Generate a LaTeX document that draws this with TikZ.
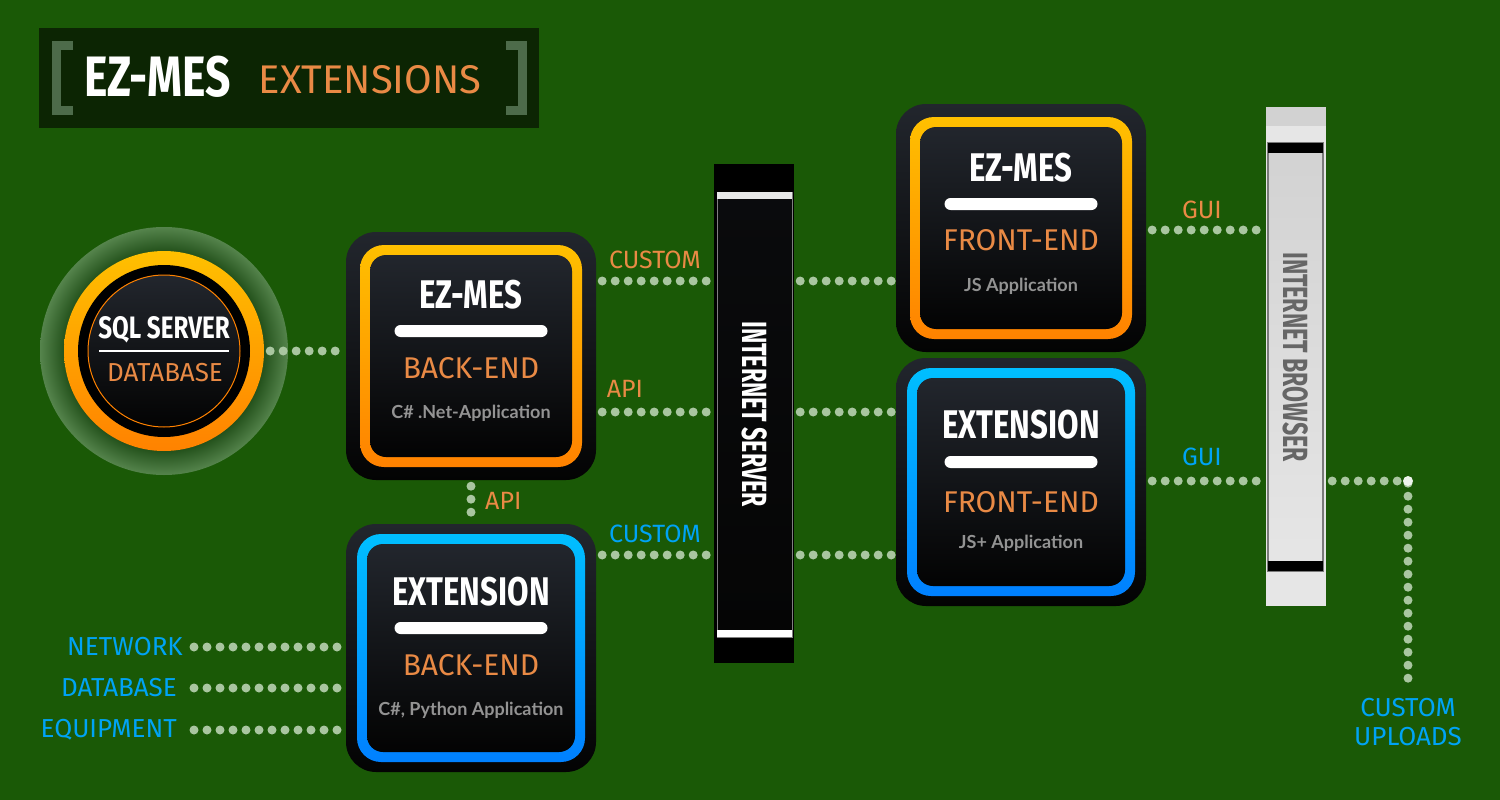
\documentclass[tikz,border=0pt]{standalone}
\usepackage{fontspec}
\setmainfont{Fira Sans}
\newfontfamily\headfont{Fira Sans}[FakeStretch=0.78]
\newfontfamily\narrowfont{Fira Sans}[FakeStretch=0.66]
\newfontfamily\techfont{Lato}
\usetikzlibrary{positioning,calc}
\definecolor{bggreen}{HTML}{1A5906}
\definecolor{titlebg}{HTML}{0C2503}
\definecolor{bracketgray}{HTML}{4D6B4A}
\definecolor{glowdark}{HTML}{22501A}
\definecolor{glowlight}{HTML}{55844C}
\definecolor{ringtop}{HTML}{FFC000}
\definecolor{ringbot}{HTML}{FF8200}
\definecolor{bluetop}{HTML}{00BFFF}
\definecolor{bluebot}{HTML}{0080FF}
\definecolor{shelltop}{HTML}{22262D}
\definecolor{shellbot}{HTML}{030303}
\definecolor{labelorange}{HTML}{E98A45}
\definecolor{labelblue}{HTML}{00A3F5}
\definecolor{techgray}{HTML}{939393}
\definecolor{dotgreen}{HTML}{A9C6A0}
\definecolor{dotwhite}{HTML}{EEF4EC}
\definecolor{panetop}{HTML}{0A0B0D}
\definecolor{panemid}{HTML}{2C2D30}
\definecolor{panebot}{HTML}{050505}
\definecolor{capwhite}{HTML}{E8E8E8}
\definecolor{browsergray}{HTML}{E6E6E6}
\definecolor{browsertop}{HTML}{D2D2D2}
\definecolor{browseredge}{HTML}{7A7A7A}
\definecolor{browsertext}{HTML}{666666}
\pgfdeclareradialshading{sqlhalo}{\pgfpoint{0bp}{0bp}}{color(0bp)=(glowdark); color(20bp)=(glowdark); color(25bp)=(glowlight); color(50bp)=(glowlight)}
\tikzset{
  appshell/.style={rectangle, rounded corners=30pt, minimum width=250pt, minimum height=248pt,
    top color=shelltop, bottom color=shellbot},
  orangeframe/.style={rectangle, rounded corners=24pt, minimum size=222pt, top color=ringtop, bottom color=ringbot},
  blueframe/.style={rectangle, rounded corners=24pt, minimum size=228pt, top color=bluetop, bottom color=bluebot},
  appcore/.style={rectangle, rounded corners=16pt, top color=shelltop, bottom color=shellbot},
  apptitle/.style={text=white, font=\headfont\bfseries\fontsize{40}{40}\selectfont},
  appbar/.style={rectangle, rounded corners=6pt, fill=white, minimum width=153pt, minimum height=12pt},
  appkind/.style={text=labelorange, font=\fontsize{30}{30}\selectfont},
  apptech/.style={text=techgray, font=\techfont\bfseries\fontsize{18}{18}\selectfont},
  orangelabel/.style={text=labelorange, font=\fontsize{25}{25}\selectfont},
  bluelabel/.style={text=labelblue, font=\fontsize{26}{26}\selectfont},
  barlabel/.style={rotate=-90, font=\narrowfont\bfseries\fontsize{35}{35}\selectfont},
  dotlink/.style={draw=dotgreen, line width=9pt, line cap=round, dash pattern=on 0pt off 13pt,
    shorten <=6pt, shorten >=3pt},
}

\begin{document}
\begin{tikzpicture}[x=1pt, y=-1pt, inner sep=0pt]

\fill[bggreen] (0,0) rectangle (1500,800);

% Title plate.
\node[fill=titlebg, minimum width=500pt, minimum height=100pt] (titleplate) at (289,78) {};
\draw[bracketgray, line width=9pt] (73,45.5) -| (56.5,110.5) -- (73,110.5);
\draw[bracketgray, line width=9pt] (506,45.5) -| (522.5,110.5) -- (506,110.5);
\node[text=white, font=\headfont\bfseries\fontsize{57}{57}\selectfont] (titlemain) at (158,77) {EZ-MES};
\node[text=labelorange, font=\fontsize{40}{40}\selectfont] (titlesub) at (370,80) {EXTENSIONS};

% SQL server.
\node[circle, minimum size=248pt, shading=sqlhalo] (sqlglow) at (164,351) {};
\node[circle, minimum size=200pt, top color=ringtop, bottom color=ringbot] (sqlring) at (sqlglow) {};
\node[circle, minimum size=172pt, fill=black] (sqlhole) at (sqlglow) {};
\node[circle, minimum size=152pt, draw=ringbot, line width=1pt, top color=shelltop, bottom color=shellbot] (sqlcore) at (sqlglow) {};
\node[text=white, font=\headfont\bfseries\fontsize{31}{31}\selectfont] (sqltitle) at (164,330) {SQL SERVER};
\draw[white, line width=1.2pt] ([xshift=-65pt]sqlcore.center) -- ([xshift=65pt]sqlcore.center);
\node[text=labelorange, font=\fontsize{26}{26}\selectfont] (sqlsub) at (165,373) {DATABASE};

% EZ-MES back-end.
\node[appshell] (beback) at (471,356) {};
\node[orangeframe] (bebackframe) at (beback) {};
\node[appcore, minimum size=202pt] (bebackcore) at (beback) {};
\node[apptitle] (bebacktitle) at ([yshift=61pt]beback.center) {EZ-MES};
\node[appbar] (bebackbar) at ([yshift=25pt]beback.center) {};
\node[appkind] (bebackkind) at ([yshift=-12pt]beback.center) {BACK-END};
\node[apptech] (bebacktech) at ([yshift=-57pt]beback.center) {C\# .Net-Application};

% Extension back-end.
\node[appshell] (exback) at (471,648) {};
\node[blueframe] (exbackframe) at (exback) {};
\node[appcore, minimum size=208pt] (exbackcore) at (exback) {};
\node[apptitle] (exbacktitle) at ([yshift=56pt]exback.center) {EXTENSION};
\node[appbar] (exbackbar) at ([yshift=20pt]exback.center) {};
\node[appkind] (exbackkind) at ([yshift=-17pt]exback.center) {BACK-END};
\node[apptech] (exbacktech) at ([yshift=-62pt]exback.center) {C\#, Python Application};

% EZ-MES front-end.
\node[appshell] (ezfront) at (1021,228) {};
\node[orangeframe] (ezfrontframe) at (ezfront) {};
\node[appcore, minimum size=202pt] (ezfrontcore) at (ezfront) {};
\node[apptitle] (ezfronttitle) at ([yshift=60pt]ezfront.center) {EZ-MES};
\node[appbar] (ezfrontbar) at ([yshift=24pt]ezfront.center) {};
\node[appkind] (ezfrontkind) at ([yshift=-12pt]ezfront.center) {FRONT-END};
\node[apptech] (ezfronttech) at ([yshift=-58pt]ezfront.center) {JS Application};

% Extension front-end.
\node[appshell] (exfront) at (1021,482) {};
\node[blueframe] (exfrontframe) at (exfront) {};
\node[appcore, minimum size=208pt] (exfrontcore) at (exfront) {};
\node[apptitle] (exfronttitle) at ([yshift=57pt]exfront.center) {EXTENSION};
\node[appbar] (exfrontbar) at ([yshift=20pt]exfront.center) {};
\node[appkind] (exfrontkind) at ([yshift=-20pt]exfront.center) {FRONT-END};
\node[apptech] (exfronttech) at ([yshift=-61pt]exfront.center) {JS+ Application};

% Internet server.
\node[fill=black, minimum width=80pt, minimum height=499pt] (server) at (754,413.5) {};
\node[draw=gray, line width=1pt, top color=panetop, middle color=panemid, bottom color=panebot,
  minimum width=75pt, minimum height=445pt] (serverpanel) at (754.5,414.5) {};
\node[fill=capwhite, minimum width=75pt, minimum height=7pt] (servercaptop) at (754.5,195.5) {};
\node[fill=white, minimum width=75pt, minimum height=7pt] (servercapbot) at (754.5,633.5) {};
\node[barlabel, text=white] (servertext) at (755,414) {INTERNET SERVER};

% Internet browser.
\node[fill=browsergray, minimum width=60pt, minimum height=499pt] (browser) at (1296,356.5) {};
\node[fill=browsertop, minimum width=60pt, minimum height=19pt] (browsercap) at (1296,116.5) {};
\node[draw=browseredge, line width=1.5pt, top color=browsertop, middle color=white!96!black, bottom color=browsergray,
  minimum width=55pt, minimum height=428pt] (browserpanel) at (1295.5,357) {};
\node[fill=black, minimum width=55pt, minimum height=10pt] (browsercaptop) at (1295.5,148) {};
\node[fill=black, minimum width=55pt, minimum height=10pt] (browsercapbot) at (1295.5,565.5) {};
\node[barlabel, text=browsertext] (browsertext) at (1296,357) {INTERNET BROWSER};

% Rows of the links.
\coordinate (rowguitop) at (0,230);
\coordinate (rowcustomtop) at (0,281);
\coordinate (rowapi) at (0,412);
\coordinate (rowguibot) at (0,481);
\coordinate (rowcustombot) at (0,555);
\coordinate (inputcol) at (188,0);
\coordinate (upturn) at (1408,481);
\coordinate (upend) at (1408,686);

\draw[dotlink] (sqlring.east) -- (sqlring.east -| beback.west);
\draw[dotlink] (beback.east |- rowcustomtop) -- (server.west |- rowcustomtop);
\draw[dotlink] (server.east |- rowcustomtop) -- (ezfront.west |- rowcustomtop);
\draw[dotlink] (beback.east |- rowapi) -- (server.west |- rowapi);
\draw[dotlink] (server.east |- rowapi) -- (exfront.west |- rowapi);
\draw[dotlink] (exback.east |- rowcustombot) -- (server.west |- rowcustombot);
\draw[dotlink] (server.east |- rowcustombot) -- (exfront.west |- rowcustombot);
\draw[dotlink] (beback.south) -- (exback.north);
\draw[dotlink] (ezfront.east |- rowguitop) -- (browser.west |- rowguitop);
\draw[dotlink] (exfront.east |- rowguibot) -- (browser.west |- rowguibot);
\draw[dotlink] (browser.east |- upturn) -- (upturn) -- (upend);
\node[circle, fill=dotwhite, minimum size=10pt] (upturndot) at (upturn) {};

% Link labels.
\node[orangelabel] (customtop) at (655,260) {CUSTOM};
\node[orangelabel] (apimid) at (625,389) {API};
\node[bluelabel, font=\fontsize{25}{25}\selectfont] (custombot) at (655,534) {CUSTOM};
\node[orangelabel, anchor=west] (apiback) at (485,501) {API};
\node[orangelabel] (guitop) at (1202,210) {GUI};
\node[bluelabel, font=\fontsize{25}{25}\selectfont] (guibot) at (1202,457) {GUI};

% Inputs of the extension back-end.
\node[bluelabel, anchor=east] (netlabel) at (183,647) {NETWORK};
\node[bluelabel, anchor=east] (dblabel) at (177,688) {DATABASE};
\node[bluelabel, anchor=east] (eqlabel) at (177,730) {EQUIPMENT};
\draw[dotlink] (inputcol |- netlabel) -- (exback.west |- netlabel);
\draw[dotlink] (inputcol |- dblabel) -- (exback.west |- dblabel);
\draw[dotlink] (inputcol |- eqlabel) -- (exback.west |- eqlabel);

\node[bluelabel, align=center, font=\fontsize{26}{29}\selectfont] (uploadlabel) at (1408,722) {CUSTOM\\UPLOADS};

\end{tikzpicture}
\end{document}
